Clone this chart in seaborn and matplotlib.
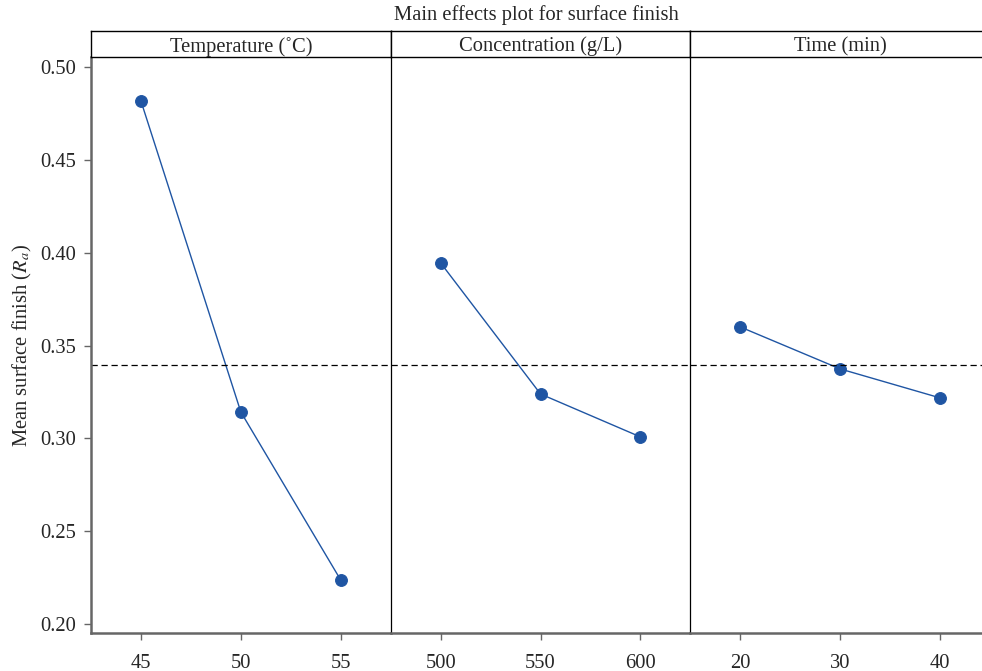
import seaborn as sns
import pandas as pd
import matplotlib.pyplot as plt

# factor levels and mean surface finish
temp_levels = [45, 50, 55]
temp_means = [0.4817, 0.3142, 0.2237]
conc_levels = [500, 550, 600]
conc_means = [0.3945, 0.3239, 0.3008]
time_levels = [20, 30, 40]
time_means = [0.3600, 0.3374, 0.3218]
grand_mean = 0.3397

panel_titles = ['Temperature (˚C)', 'Concentration (g/L)', 'Time (min)']
y_ticks = [0.20, 0.25, 0.30, 0.35, 0.40, 0.45, 0.50]

panels = [
    (temp_levels, temp_means, (42.5, 57.5)),
    (conc_levels, conc_means, (475, 625)),
    (time_levels, time_means, (15, 45)),
]

sns.set_theme(style='ticks')
plt.rcParams['font.family'] = ['Liberation Serif', 'DejaVu Serif']
plt.rcParams['mathtext.fontset'] = 'stix'

W, H = 982, 671
fig = plt.figure(figsize=(W / 100, H / 100), dpi=100)

left, pw = 91, 299.7
bottom, ph = 38, 576
hh = 26
blue = '#1f55a3'
spine_grey = '#666666'
fs = 14.8

for i, (lv, mv, xl) in enumerate(panels):
    x0 = left + i * pw
    ax = fig.add_axes([x0 / W, bottom / H, pw / W, ph / H])
    df = pd.DataFrame({'level': lv, 'mean': mv})
    sns.lineplot(data=df, x='level', y='mean', ax=ax, color=blue, lw=1.0,
                 marker='o', markersize=8.5, markeredgecolor=blue)
    ax.axhline(grand_mean, color='black', lw=0.9, ls=(0, (5, 3)))
    ax.set_xlim(*xl)
    ax.set_ylim(0.1952, 0.5054)
    ax.set_xticks(lv)
    ax.set_xlabel('')
    ax.set_ylabel('')
    ax.tick_params(axis='x', length=5, width=1, color=spine_grey, labelsize=fs, pad=10)
    for s in ['top', 'right']:
        ax.spines[s].set_visible(False)
    ax.spines['bottom'].set_color(spine_grey)
    ax.spines['bottom'].set_linewidth(1.8)
    if i == 0:
        ax.set_yticks(y_ticks)
        ax.set_yticklabels([f'{t:.2f}' for t in y_ticks])
        ax.tick_params(axis='y', length=5, width=1, color=spine_grey, labelsize=fs, pad=6)
        ax.spines['left'].set_color(spine_grey)
        ax.spines['left'].set_linewidth(1.8)
        ax.set_ylabel('Mean surface finish ($R_a$)', fontsize=fs, labelpad=4)
    else:
        ax.set_yticks([])
        ax.spines['left'].set_color('black')
        ax.spines['left'].set_linewidth(0.9)

    hax = fig.add_axes([x0 / W, (bottom + ph) / H, pw / W, hh / H])
    hax.set_xticks([])
    hax.set_yticks([])
    for s in hax.spines.values():
        s.set_color('black')
        s.set_linewidth(1.0)
    hax.text(0.5, 0.4, panel_titles[i], ha='center', va='center',
             fontsize=fs, transform=hax.transAxes)

fig.text(536 / W, 1 - 15 / H, 'Main effects plot for surface finish',
         ha='center', va='center', fontsize=fs)

fig.savefig('out.png', dpi=100)
